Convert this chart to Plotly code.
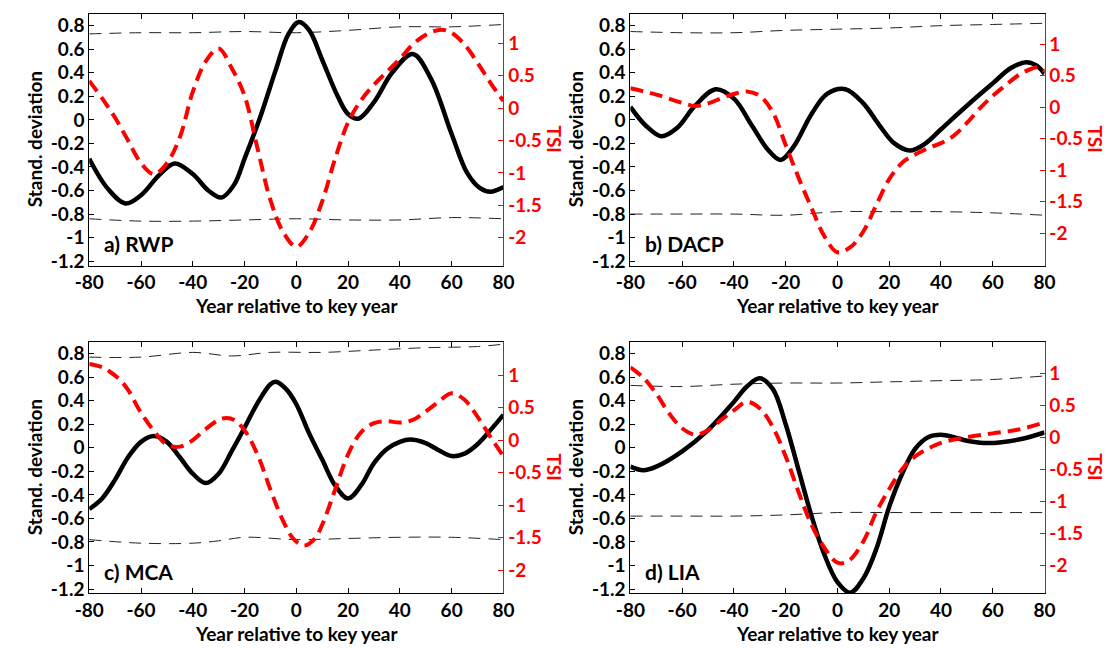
import plotly.graph_objects as go

# ---------------- data ----------------
# a) RWP
a_sd_x = [-80, -73, -66, -60, -53, -47, -40, -34, -29, -24, -20, -14, -8, -3, 1, 5, 10, 16, 20, 24,
          30, 37, 45, 52, 60, 66, 71, 75, 80]
a_sd_y = [-0.33, -0.58, -0.71, -0.64, -0.47, -0.37, -0.46, -0.60, -0.66, -0.55, -0.33, 0.02, 0.42,
          0.73, 0.83, 0.76, 0.51, 0.20, 0.05, 0.01, 0.15, 0.40, 0.56, 0.35, -0.12, -0.45, -0.58,
          -0.61, -0.57]
a_tsi_x = [-80, -75, -70, -65, -60, -55, -50, -45, -40, -35, -30, -25, -20, -15, -10, -5, 0, 5, 10,
           15, 20, 25, 30, 35, 40, 45, 50, 56, 60, 65, 70, 75, 80]
a_tsi_y = [0.42, 0.15, -0.15, -0.50, -0.85, -1.02, -0.85, -0.45, 0.25, 0.72, 0.92, 0.62, 0.19,
           -0.62, -1.42, -1.92, -2.14, -1.92, -1.44, -0.78, -0.22, 0.12, 0.36, 0.56, 0.76, 0.98,
           1.13, 1.21, 1.16, 0.98, 0.70, 0.39, 0.11]
a_bnd_x = [-80, -60, -40, -20, 0, 20, 40, 60, 80]
a_hi = [0.73, 0.74, 0.74, 0.75, 0.74, 0.76, 0.79, 0.79, 0.81]
a_lo = [-0.84, -0.86, -0.86, -0.85, -0.84, -0.85, -0.85, -0.83, -0.84]

# b) DACP
b_sd_x = [-80, -74, -68, -62, -55, -47, -40, -33, -27, -22, -17, -10, -4, 3, 10, 16, 22, 28, 34,
          40, 50, 60, 67, 73, 77, 80]
b_sd_y = [0.11, -0.05, -0.14, -0.07, 0.12, 0.26, 0.18, -0.05, -0.25, -0.34, -0.23, 0.05, 0.22,
          0.26, 0.14, -0.04, -0.20, -0.26, -0.20, -0.08, 0.12, 0.31, 0.44, 0.49, 0.46, 0.39]
b_tsi_x = [-80, -70, -60, -55, -50, -45, -40, -35, -30, -25, -20, -15, -10, -5, 0, 5, 10, 15, 20,
           25, 30, 35, 40, 45, 50, 55, 60, 65, 70, 75, 78, 80]
b_tsi_y = [0.30, 0.20, 0.07, 0.02, 0.06, 0.14, 0.21, 0.25, 0.18, -0.08, -0.60, -1.12, -1.60,
           -2.05, -2.30, -2.22, -1.97, -1.55, -1.14, -0.88, -0.75, -0.65, -0.57, -0.45, -0.25,
           -0.02, 0.18, 0.35, 0.51, 0.61, 0.63, 0.57]
b_bnd_x = [-80, -60, -40, -20, 0, 20, 40, 60, 80]
b_hi = [0.75, 0.74, 0.74, 0.76, 0.77, 0.78, 0.80, 0.81, 0.82]
b_lo = [-0.80, -0.80, -0.80, -0.81, -0.78, -0.78, -0.78, -0.79, -0.81]

# c) MCA
c_sd_x = [-80, -75, -70, -65, -60, -55, -50, -45, -40, -35, -30, -25, -20, -15, -10, -8, -4, 0, 5,
          10, 15, 20, 25, 30, 35, 40, 44, 50, 55, 60, 65, 70, 75, 80]
c_sd_y = [-0.52, -0.43, -0.27, -0.08, 0.05, 0.10, 0.05, -0.08, -0.22, -0.30, -0.22, -0.03, 0.17,
          0.38, 0.54, 0.56, 0.50, 0.37, 0.12, -0.10, -0.32, -0.43, -0.32, -0.13, -0.01, 0.05, 0.07,
          0.04, -0.02, -0.07, -0.05, 0.03, 0.15, 0.28]
c_tsi_x = [-80, -75, -72, -68, -65, -60, -55, -50, -45, -40, -35, -30, -27, -24, -20, -15, -10, -5,
           -1, 3, 7, 10, 15, 20, 25, 30, 35, 40, 45, 50, 55, 60, 65, 70, 75, 80]
c_tsi_y = [1.17, 1.12, 1.05, 0.92, 0.77, 0.42, 0.14, -0.07, -0.10, 0.00, 0.17, 0.31, 0.34, 0.31,
           0.15, -0.22, -0.76, -1.25, -1.52, -1.62, -1.52, -1.30, -0.76, -0.22, 0.12, 0.26, 0.29,
           0.27, 0.31, 0.44, 0.59, 0.72, 0.62, 0.36, 0.05, -0.25]
c_hi_x = [-80, -60, -40, -25, -10, 10, 30, 50, 70, 80]
c_hi = [0.77, 0.77, 0.81, 0.78, 0.81, 0.81, 0.83, 0.85, 0.86, 0.88]
c_lo_x = [-80, -60, -40, -30, -20, 0, 20, 40, 60, 80]
c_lo = [-0.78, -0.81, -0.81, -0.79, -0.76, -0.78, -0.77, -0.76, -0.76, -0.78]

# d) LIA
d_sd_x = [-80, -75, -70, -60, -50, -40, -35, -30, -25, -20, -15, -10, -5, 0, 5, 10, 15, 20, 25,
          30, 35, 40, 45, 50, 58, 70, 80]
d_sd_y = [-0.16, -0.19, -0.16, -0.03, 0.15, 0.39, 0.52, 0.59, 0.50, 0.20, -0.19, -0.58, -0.91,
          -1.14, -1.23, -1.11, -0.86, -0.50, -0.22, -0.01, 0.09, 0.11, 0.09, 0.06, 0.04, 0.07,
          0.13]
d_tsi_x = [-80, -75, -70, -65, -60, -55, -50, -45, -40, -35, -30, -25, -20, -15, -10, -5, 0, 4,
           10, 15, 20, 25, 30, 40, 50, 60, 70, 80]
d_tsi_y = [1.09, 0.93, 0.68, 0.37, 0.14, 0.04, 0.11, 0.27, 0.42, 0.55, 0.45, 0.16, -0.30, -0.86,
           -1.37, -1.73, -1.96, -1.94, -1.63, -1.17, -0.81, -0.50, -0.30, -0.09, 0.00, 0.06, 0.12,
           0.23]
d_bnd_x = [-80, -60, -40, -20, 0, 20, 40, 60, 80]
d_hi = [0.53, 0.52, 0.54, 0.55, 0.55, 0.56, 0.57, 0.58, 0.61]
d_lo = [-0.58, -0.58, -0.58, -0.57, -0.55, -0.55, -0.55, -0.55, -0.55]

panel_labels = ["a) RWP", "b) DACP", "c) MCA", "d) LIA"]
x_ticks = [-80, -60, -40, -20, 0, 20, 40, 60, 80]
sd_ticks = [-1.2, -1, -0.8, -0.6, -0.4, -0.2, 0, 0.2, 0.4, 0.6, 0.8]
sd_tick_text = ["-1.2", "-1", "-0.8", "-0.6", "-0.4", "-0.2", "0", "0.2", "0.4", "0.6", "0.8"]
tsi_ticks = [-2, -1.5, -1, -0.5, 0, 0.5, 1]
tsi_tick_text = ["-2", "-1.5", "-1", "-0.5", "0", "0.5", "1"]

panels = [
    dict(sd=(a_sd_x, a_sd_y), tsi=(a_tsi_x, a_tsi_y), hi=(a_bnd_x, a_hi), lo=(a_bnd_x, a_lo),
         tsi_range=[-2.43, 1.454]),
    dict(sd=(b_sd_x, b_sd_y), tsi=(b_tsi_x, b_tsi_y), hi=(b_bnd_x, b_hi), lo=(b_bnd_x, b_lo),
         tsi_range=[-2.51, 1.48]),
    dict(sd=(c_sd_x, c_sd_y), tsi=(c_tsi_x, c_tsi_y), hi=(c_hi_x, c_hi), lo=(c_lo_x, c_lo),
         tsi_range=[-2.355, 1.51]),
    dict(sd=(d_sd_x, d_sd_y), tsi=(d_tsi_x, d_tsi_y), hi=(d_bnd_x, d_hi), lo=(d_bnd_x, d_lo),
         tsi_range=[-2.44, 1.49]),
]

# ---------------- layout geometry (pixels) ----------------
W, H = 1120, 648
col_px = [(76, 500), (630, 1054)]
row_px = [(14, 268), (345, 599)]

FONT = "Lato"
RED = "#ff0000"
TICK_SIZE = 19
TITLE_SIZE = 19

fig = go.Figure()
layout = dict(
    width=W, height=H, margin=dict(l=0, r=0, t=0, b=0),
    paper_bgcolor="white", plot_bgcolor="white", showlegend=False,
    font=dict(family=FONT, size=TICK_SIZE, color="black", weight="bold"),
)
annotations = []

for i, p in enumerate(panels):
    r, c = divmod(i, 2)
    x0, x1 = col_px[c]
    yt, yb = row_px[r]
    xdom = [x0 / W, x1 / W]
    ydom = [1 - yb / H, 1 - yt / H]
    xa = f"x{i + 1}"
    yl = f"y{2 * i + 1}"
    yr = f"y{2 * i + 2}"

    bnd_line = dict(color="#222222", width=1, dash="12px,8px")
    fig.add_trace(go.Scatter(x=p["hi"][0], y=p["hi"][1], mode="lines", line=bnd_line,
                             line_shape="spline", xaxis=xa, yaxis=yl, hoverinfo="skip"))
    fig.add_trace(go.Scatter(x=p["lo"][0], y=p["lo"][1], mode="lines", line=bnd_line,
                             line_shape="spline", xaxis=xa, yaxis=yl, hoverinfo="skip"))
    fig.add_trace(go.Scatter(x=p["sd"][0], y=p["sd"][1], mode="lines",
                             line=dict(color="black", width=4.5, shape="spline", smoothing=1.0),
                             xaxis=xa, yaxis=yl))
    fig.add_trace(go.Scatter(x=p["tsi"][0], y=p["tsi"][1], mode="lines",
                             line=dict(color=RED, width=4, dash="13px,7px", shape="spline",
                                       smoothing=1.0),
                             xaxis=xa, yaxis=yr))

    layout[f"xaxis{i + 1}"] = dict(
        domain=xdom, anchor=yl, range=[-80, 80], tickvals=x_ticks,
        ticktext=[str(v) for v in x_ticks], ticks="inside", ticklen=5, tickcolor="black",
        showline=True, linecolor="black", linewidth=1, mirror="ticks", showgrid=False,
        zeroline=False, tickfont=dict(family=FONT, size=TICK_SIZE, color="black", weight="bold"),
    )
    layout[f"yaxis{2 * i + 1}"] = dict(
        domain=ydom, anchor=xa, range=[-1.237, 0.9], tickvals=sd_ticks, ticktext=sd_tick_text,
        ticks="inside", ticklen=5, tickcolor="black", showline=True, linecolor="black",
        linewidth=1, showgrid=False, zeroline=False,
        tickfont=dict(family=FONT, size=TICK_SIZE, color="black", weight="bold"),
    )
    layout[f"yaxis{2 * i + 2}"] = dict(
        domain=ydom, anchor=xa, overlaying=yl, side="right", range=p["tsi_range"],
        tickvals=tsi_ticks, ticktext=tsi_tick_text, ticks="inside", ticklen=5, tickcolor=RED,
        showline=True, linecolor=RED, linewidth=1, showgrid=False, zeroline=False,
        tickfont=dict(family=FONT, size=TICK_SIZE, color=RED, weight="bold"),
    )

    # axis titles and panel label
    annotations.append(dict(
        text="Year relative to key year", xref="paper", yref="paper",
        x=(x0 + x1) / 2 / W, y=1 - (yb + 40) / H, showarrow=False,
        xanchor="center", yanchor="middle",
        font=dict(family=FONT, size=TITLE_SIZE, color="black", weight="bold")))
    annotations.append(dict(
        text="Stand. deviation", xref="paper", yref="paper",
        x=(x0 - 56) / W, y=1 - (yt + yb) / 2 / H, showarrow=False, textangle=-90,
        xanchor="center", yanchor="middle",
        font=dict(family=FONT, size=TITLE_SIZE, color="black", weight="bold")))
    annotations.append(dict(
        text="TSI", xref="paper", yref="paper",
        x=(x1 + 52) / W, y=1 - (yt + 126) / H, showarrow=False, textangle=90,
        xanchor="center", yanchor="middle",
        font=dict(family=FONT, size=TITLE_SIZE, color=RED, weight="bold")))
    annotations.append(dict(
        text=panel_labels[i], xref="paper", yref="paper",
        x=(x0 + 13) / W, y=1 - (yb - 22) / H, showarrow=False,
        xanchor="left", yanchor="middle",
        font=dict(family=FONT, size=21, color="black", weight="bold")))

layout["annotations"] = annotations
fig.update_layout(**layout)
fig.write_html("out.html")
